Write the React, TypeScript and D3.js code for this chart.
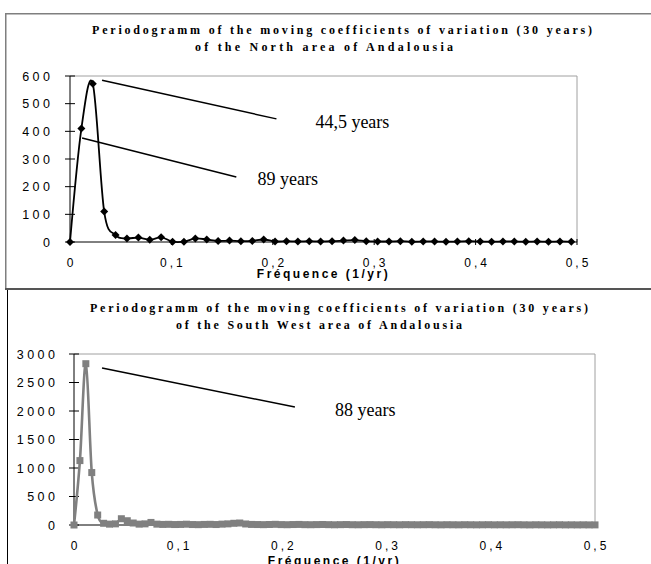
import React from 'react';
import * as d3 from 'd3';

// periodogram ordinates, one per Fourier frequency k / N
const northN = 89;
const northValues = [
  0, 410, 572, 110, 25, 13, 16, 8, 17, 1, 1, 13, 9, 4, 5, 3, 4, 9, 2, 3, 2, 3, 2,
  3, 5, 7, 3, 2, 2, 3, 1, 2, 2, 1, 2, 3, 2, 1, 2, 2, 1, 2, 1, 2, 1,
];

const southN = 176;
const southValues = [
  0, 1130, 2830, 920, 175, 30, 15, 20, 110, 75, 35, 15, 20, 45, 15, 10, 12, 8, 10,
  14, 8, 6, 10, 12, 8, 15, 20, 30, 35, 18, 10, 8, 6, 9, 12, 7, 5, 8, 10, 6, 5, 7,
  9, 6, 4, 6, 8, 5, 4, 6, 7, 5, 4, 6, 5, 4, 6, 5, 4, 5, 6, 4, 3, 5, 4, 3, 5, 4, 3,
  4, 5, 3, 4, 3, 4, 5, 3, 2, 4, 3, 2, 3, 4, 2, 3, 2, 3, 2, 2,
];

const xTicks = [0, 0.1, 0.2, 0.3, 0.4, 0.5];
const northYTicks = [0, 100, 200, 300, 400, 500, 600];
const southYTicks = [0, 500, 1000, 1500, 2000, 2500, 3000];

const northTitle = [
  'Periodogramm of the moving coefficients of variation (30 years)',
  'of the North area of Andalousia',
];
const southTitle = [
  'Periodogramm of the moving coefficients of variation (30 years)',
  'of the South West area of Andalousia',
];
const xTitle = 'Fréquence (1/yr)';

// leader lines [f1, v1, f2, v2] and labels [f, v, text], in data units
const northNotes = [
  { line: [0.0316, 585, 0.2036, 445], label: [0.242, 412, '44,5 years'] },
  { line: [0.0119, 376, 0.164, 235], label: [0.185, 206, '89 years'] },
];
const southNotes = [
  { line: [0.0269, 2754, 0.212, 2070], label: [0.2505, 1912, '88 years'] },
];

const sans = 'Arial, "Liberation Sans", sans-serif';
const serif = '"Times New Roman", "Liberation Serif", serif';

const fmt = (t: number) => String(t).replace('.', ',');

function Panel({ values, n, yTicks, notes, title, kind, o }: any) {
  const x = d3.scaleLinear().domain([0, 0.5]).range([o.x0, o.x1]);
  const y = d3.scaleLinear().domain([0, yTicks[yTicks.length - 1]]).range([o.y0, o.y1]);
  const pts: [number, number][] = values.map((v: number, i: number) => [i / n, v]);
  const line = d3
    .line<[number, number]>()
    .x((d) => x(d[0]))
    .y((d) => y(d[1]))
    .curve(d3.curveCardinal.tension(0));
  const grey = kind === 'square';
  return (
    <g>
      {title.map((t: string, i: number) => (
        <text
          key={i}
          x={o.titleX[i]}
          y={o.titleY[i]}
          textLength={o.titleW[i]}
          lengthAdjust="spacing"
          fontFamily={serif}
          fontWeight="bold"
          fontSize={12}
        >
          {t}
        </text>
      ))}
      {/* plot frame: top grid line and right edge */}
      <line x1={o.x0} x2={o.x1} y1={o.y1} y2={o.y1} stroke="#a0a0a0" strokeWidth={1} />
      <line x1={o.x1} x2={o.x1} y1={o.y1} y2={o.y0} stroke="#a0a0a0" strokeWidth={1} />
      {/* axes */}
      <line x1={o.x0} x2={o.x1} y1={o.y0} y2={o.y0} stroke="#000" strokeWidth={1} />
      <line x1={o.x0} x2={o.x0} y1={o.y1} y2={o.y0} stroke="#000" strokeWidth={1} />
      {yTicks.map((t: number) => (
        <g key={t}>
          <line x1={o.x0 - 5} x2={o.x0 + 5} y1={y(t)} y2={y(t)} stroke="#000" />
          <text
            x={o.labelRight + 3.5}
            y={y(t) + 4.5}
            textAnchor="end"
            fontFamily={sans}
            fontSize={12.5}
            letterSpacing={3.5}
          >
            {t}
          </text>
        </g>
      ))}
      {xTicks.map((t) => (
        <g key={t}>
          <line x1={x(t)} x2={x(t)} y1={o.y0 - 3} y2={o.y0 + 3} stroke="#000" />
          <text
            x={x(t) + 1.5}
            y={o.xLabelY}
            textAnchor="middle"
            fontFamily={sans}
            fontSize={12}
            letterSpacing={3}
          >
            {fmt(t)}
          </text>
        </g>
      ))}
      <text
        x={(o.x0 + o.x1) / 2}
        y={o.xTitleY}
        textAnchor="middle"
        fontFamily={sans}
        fontWeight="bold"
        fontSize={12}
        letterSpacing={2.5}
      >
        {xTitle}
      </text>
      {/* series */}
      <path
        d={line(pts) || ''}
        fill="none"
        stroke={grey ? '#808080' : '#000'}
        strokeWidth={grey ? 2.6 : 1.8}
      />
      {pts.map((d, i) =>
        grey ? (
          <rect key={i} x={x(d[0]) - 3.5} y={y(d[1]) - 3.5} width={7} height={7} fill="#808080" />
        ) : (
          <path
            key={i}
            transform={`translate(${x(d[0])},${y(d[1])})`}
            d="M0,-4L4,0L0,4L-4,0Z"
            fill="#000"
          />
        )
      )}
      {/* annotations */}
      {notes.map((nt: any, i: number) => (
        <g key={i}>
          <line
            x1={x(nt.line[0])}
            y1={y(nt.line[1])}
            x2={x(nt.line[2])}
            y2={y(nt.line[3])}
            stroke="#000"
            strokeWidth={1.5}
          />
          <text x={x(nt.label[0])} y={y(nt.label[1])} fontFamily={serif} fontSize={18}>
            {nt.label[2]}
          </text>
        </g>
      ))}
    </g>
  );
}

export default function App() {
  const top = {
    x0: 70, x1: 577, y0: 242, y1: 76, labelRight: 50,
    xLabelY: 267, xTitleY: 278,
    titleX: [92, 195], titleW: [500, 258], titleY: [34, 51],
  };
  const bottom = {
    x0: 74, x1: 595, y0: 525, y1: 354, labelRight: 55,
    xLabelY: 549.5, xTitleY: 565,
    titleX: [90, 176], titleW: [498, 286], titleY: [312, 329],
  };
  return (
    <svg
      width={651}
      height={564}
      style={{ position: 'absolute', left: 0, top: 0, background: '#fff' }}
    >
      <rect x={5.75} y={13.75} width={720} height={275} fill="#fff" stroke="#7f7f7f" strokeWidth={1.5} />
      <Panel values={northValues} n={northN} yTicks={northYTicks} notes={northNotes} title={northTitle} kind="diamond" o={top} />
      <line x1={7.5} x2={7.5} y1={289} y2={564} stroke="#000" strokeWidth={1} />
      <line x1={5} x2={651} y1={289} y2={289} stroke="#555" strokeWidth={2} />
      <Panel values={southValues} n={southN} yTicks={southYTicks} notes={southNotes} title={southTitle} kind="square" o={bottom} />
    </svg>
  );
}
